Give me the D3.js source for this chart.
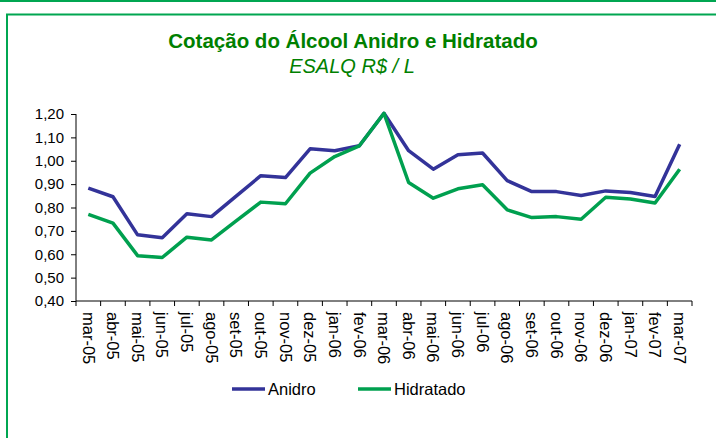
<!DOCTYPE html>
<html>
<head>
<meta charset="utf-8">
<script src="https://cdn.jsdelivr.net/npm/d3@7"></script>
<style>
  body { margin: 0; background: #fff; }
  svg { display: block; font-family: "Liberation Sans", Arial, sans-serif; }
</style>
</head>
<body>
<svg id="chart" width="716" height="438"></svg>
<script>
// monthly quotes, mar-05 .. mar-07
const months = ["mar-05","abr-05","mai-05","jun-05","jul-05","ago-05","set-05","out-05","nov-05","dez-05",
  "jan-06","fev-06","mar-06","abr-06","mai-06","jun-06","jul-06","ago-06","set-06","out-06","nov-06","dez-06",
  "jan-07","fev-07","mar-07"];
const anidro = [0.883,0.846,0.683,0.671,0.773,0.761,0.849,0.936,0.928,1.051,1.043,1.064,1.203,
  1.043,0.964,1.026,1.033,0.915,0.868,0.868,0.851,0.871,0.864,0.847,1.071];
const hidratado = [0.771,0.733,0.594,0.586,0.673,0.661,0.743,0.823,0.816,0.947,1.018,1.064,1.203,
  0.907,0.840,0.880,0.897,0.790,0.757,0.761,0.750,0.844,0.836,0.819,0.964];
const yTicks = [0.4,0.5,0.6,0.7,0.8,0.9,1.0,1.1,1.2];

const series = [
  { name: "Anidro", values: anidro, color: "#333399" },
  { name: "Hidratado", values: hidratado, color: "#00A04F" }
];

const svg = d3.select("#chart");
const width = 716;
const height = 438;
const borderColor = "#00A651";

// frames
svg.append("rect").attr("x", 0).attr("y", 0).attr("width", width).attr("height", 2).attr("fill", borderColor);
svg.append("rect")
  .attr("x", 7).attr("y", 14.5)
  .attr("width", width + 20).attr("height", height + 20)
  .attr("fill", "none").attr("stroke", borderColor).attr("stroke-width", 2);

// title
svg.append("text")
  .attr("x", 353).attr("y", 48)
  .attr("text-anchor", "middle")
  .style("font-size", "20.5px").style("font-weight", "bold")
  .style("fill", "#008000")
  .text("Cotação do Álcool Anidro e Hidratado");
svg.append("text")
  .attr("x", 352).attr("y", 73)
  .attr("text-anchor", "middle")
  .style("font-size", "20px").style("font-style", "italic")
  .style("fill", "#008000")
  .text("ESALQ R$ / L");

const x = d3.scaleBand().domain(months).range([76, 692]).padding(0);
const y = d3.scaleLinear().domain([0.4, 1.2]).range([301, 114]);
const fmt = v => d3.format(".2f")(v).replace(".", ",");

// y axis
const yAxis = svg.append("g")
  .attr("transform", "translate(76,0)")
  .call(d3.axisLeft(y).tickValues(yTicks).tickFormat(fmt).tickSize(5).tickPadding(7));
yAxis.attr("font-family", null).attr("font-size", null);
yAxis.select(".domain").attr("stroke", "#000").attr("d", `M0,${y(1.2)}V${y(0.4)}`);
yAxis.selectAll("line").attr("stroke", "#000");
yAxis.selectAll("text").style("font-size", "15px").style("fill", "#000");

// x axis: labels at band centres, ticks at band boundaries
const xAxis = svg.append("g")
  .attr("transform", `translate(0,${y(0.4)})`)
  .call(d3.axisBottom(x).tickSize(0));
xAxis.attr("font-family", null).attr("font-size", null);
xAxis.select(".domain").attr("stroke", "#000").attr("d", `M76,0H692`);
xAxis.selectAll("text")
  .style("font-size", "16.5px").style("fill", "#000")
  .attr("text-anchor", "start")
  .attr("transform", "rotate(90)")
  .attr("x", 11).attr("y", 0).attr("dy", "0.35em");
const bounds = months.map(m => x(m)).concat([x.range()[1]]);
xAxis.selectAll(".bound")
  .data(bounds)
  .enter()
  .append("line")
  .attr("class", "bound")
  .attr("x1", d => d).attr("x2", d => d)
  .attr("y1", 0).attr("y2", 5)
  .attr("stroke", "#000");

// lines
const line = d3.line()
  .x((d, i) => x(months[i]) + x.bandwidth() / 2)
  .y(d => y(d));

svg.selectAll(".series")
  .data(series)
  .enter()
  .append("path")
  .attr("class", "series")
  .attr("d", d => line(d.values))
  .attr("fill", "none")
  .attr("stroke", d => d.color)
  .attr("stroke-width", 3.5)
  .attr("stroke-linejoin", "round");

// legend
const legendItems = svg.append("g").selectAll("g")
  .data(series)
  .enter()
  .append("g")
  .attr("transform", (d, i) => `translate(${i === 0 ? 232 : 358},389)`);
legendItems.append("line")
  .attr("x1", 0).attr("x2", 33)
  .attr("y1", 0).attr("y2", 0)
  .attr("stroke", d => d.color)
  .attr("stroke-width", 3.5);
legendItems.append("text")
  .attr("x", 36).attr("y", 0).attr("dy", "0.35em")
  .style("font-size", "16.5px").style("fill", "#000")
  .text(d => d.name);
</script>
</body>
</html>
